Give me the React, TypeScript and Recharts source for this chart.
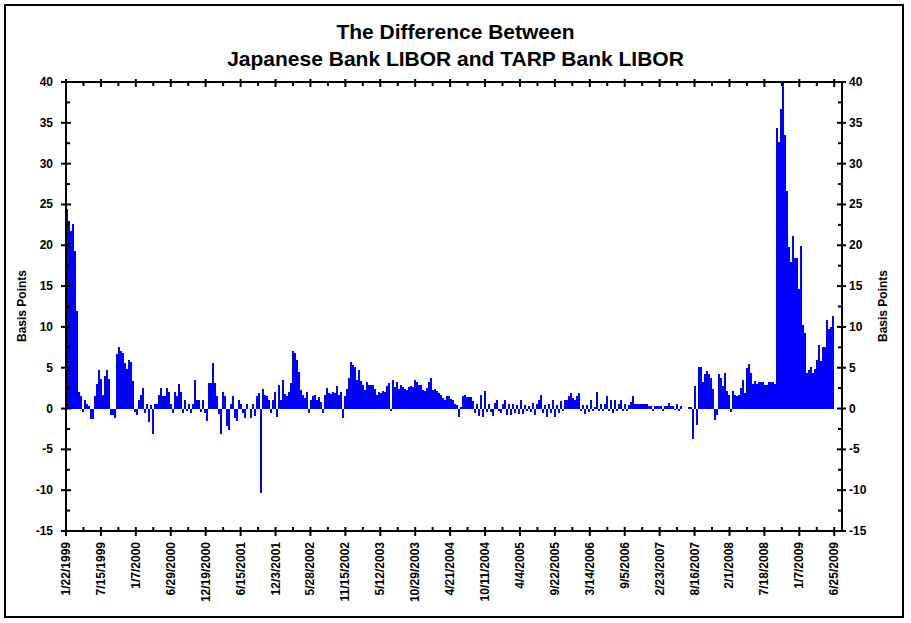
import { BarChart, Bar, XAxis, YAxis } from 'recharts';

const FONT = "'Liberation Sans', Arial, Helvetica, sans-serif";
const BLUE = '#0000FF';

const dateLabels = [
  '1/22/1999', '7/15/1999', '1/7/2000', '6/29/2000', '12/19/2000', '6/15/2001',
  '12/3/2001', '5/28/2002', '11/15/2002', '5/12/2003', '10/29/2003', '4/21/2004',
  '10/11/2004', '4/4/2005', '9/22/2005', '3/14/2006', '9/5/2006', '2/23/2007',
  '8/16/2007', '2/1/2008', '7/18/2008', '1/7/2009', '6/25/2009',
];

const yTicks = [-15, -12.5, -10, -7.5, -5, -2.5, 0, 2.5, 5, 7.5, 10, 12.5, 15, 17.5, 20, 22.5, 25, 27.5, 30, 32.5, 35, 37.5, 40];

// spread in basis points, roughly one value per 2px column of the original plot
const bps1999to2000 = [
  24.5, 23, 21.8, 22.6, 19.3, 12, 2.0, 1.5, -0.4, 1.1,
  0.6, 0.3, -1.3, -1.3, 1.5, 3.0, 4.7, 3.6, 1.6, 4.0,
  4.7, 3.6, -0.8, -0.8, -1.2, 6.7, 7.6, 7.1, 6.8, 5.6,
  4.9, 6.0, 5.7, 3.4, -0.4, -0.8, 1.1, 1.6, 2.5, -0.5,
  0.6, -1.6, 0.4, -3.1, 0.6, 0.6, 1.6, 2.5, 1.5, 1.5,
  2.5, 2.0, 0.6, -0.5, 2.0, 1.5, 3.0, 2.0, -0.5, 1.1,
  -0.3, 0.6, -0.5, 0.6, 3.5, 1.1, 1.1, -0.4, 1.0, -0.5,
  -1.5, 3.1, 3.1,
];

const bps2001to2002 = [
  5.6, 3.1, 1.5, -0.7, -3.1, 2.0, 1.5, -2.1, -2.6, 0.6,
  1.5, -1.1, -1.5, 1.1, 0.6, -0.5, -1.2, 0.6, 0, -1.2,
  0.5, -0.9, 1.5, 1.9, -10.4, 2.4, 1.6, 1.5, 1.1, -0.5,
  1.1, 2.0, -1.0, 2.9, 1.1, 3.5, 1.8, 1.5, 2.0, 3.1,
  7.1, 6.8, 6.0, 4.5, 2.3, 1.7, 1.3, 2.0, -0.5, 1.1,
  1.5, 1.6, 1.1, 1.4, 0.8, -0.5, 1.6, 2.5, 1.9, 1.8,
  2.0, 1.9, 2.8, 1.6, 2.0, -1.2, 1.5, 2.4,
];

const bps2003to2004 = [
  3.8, 5.7, 5.3, 5.1, 3.5, 4.7, 3.4, 2.9, 2.3, 3.2,
  2.9, 2.9, 2.9, 2.4, 1.6, 2.0, 1.9, 2.1, 2.0, 2.8,
  3.1, -0.3, 3.5, 2.6, 3.3, 2.4, 2.9, 2.6, 2.4, 2.3,
  2.7, 2.8, 2.7, 3.5, 3.3, 2.9, 2.9, 2.3, 2.2, 2.5,
  3.3, 3.8, 2.3, 2.4, 2.2, 1.9, 1.6, 1.3, 1.0, 1.5,
  1.5, 1.2, 1.0, 0.6, 0.4, -1.0, 0.2, 1.5, 1.6, 1.4,
  1.4, 1.4, 0.9, -0.5, 0.6, -0.9, 1.6, -1.0, 2.1, -0.4,
];

const bps2005to2006 = [
  0.6, -0.4, -0.9, 0.7, 1.1, -0.3, -0.6, 0.5, 1.0, -0.8,
  0.6, -0.8, 0.6, -0.5, 0.4, -0.7, 1.0, -0.7, 0.4, -0.3,
  0.3, -0.4, 0.7, -0.8, 0.6, 1.1, 1.6, -0.5, 0.4, -1.0,
  0.5, -0.6, 1.0, -1.0, 0.4, -0.5, 0.9, -0.3, 1.0, 1.1,
  1.5, 1.9, 1.3, 1.1, 1.5, 1.9, -0.3, 0.4, -0.7, 0.4,
  -0.4, 1.1, -0.3, 0.2, 2.0, -0.3, 0.6, -0.3, 0.6, 1.5,
  -0.3, 1.0, -0.5, 1.1, -0.3, 0.6, 1.1, -0.3, 0.6, -0.3,
];

const bps2007to2009 = [
  0.4, 0.8, 1.5, 0.6, 0.6, 0.6, 0.5, 0.6, 0.5, 0.6,
  0.3, 0.3, -0.3, 0.3, 0.3, 0.3, 0.3, -0.3, 0.3, 0.3,
  0.7, 0.3, 0.3, -0.2, 0.6, -0.25, 0.3, 0, 0, 0,
  0.15, 0.2, -3.7, 2.8, -2.0, 5.1, 5.1, 3.2, 4.2, 4.6,
  4.2, 3.8, 2.4, -1.4, -0.8, 4.2, 3.8, 2.8, 4.3, 2.1,
  1.6, -0.4, 2.1, 1.7, 1.5, 1.7, 2.5, 3.5, 1.9, 5.0,
  5.5, 4.3, 3.0, 3.4, 3.0, 3.3, 3.3, 3.3, 2.9, 2.9,
  3.3, 3.3, 3.3, 3.0, 34.4, 32.6, 36.7, 40, 33.5, 26.6,
  19.8, 17.9, 21.1, 18.4, 18.4, 14.6, 19.9, 10.2, 9.2, 4.3,
  4.7, 5.1, 4.3, 4.8, 6.0, 7.8, 5.8, 7.6, 7.6, 10.9,
  9.8, 10.0, 11.3,
];

const allBps = [...bps1999to2000, ...bps2001to2002, ...bps2003to2004, ...bps2005to2006, ...bps2007to2009];
const chartData = allBps.map((v, i) => ({ pos: i + 0.5, v }));

// date labels sit every 17.46 columns; minor ticks half way between
const LABEL_STEP = 17.46;
const xMajor = dateLabels.map((_, k) => k * LABEL_STEP);
const xMinor = xMajor.slice(0, -1).map((t) => t + LABEL_STEP / 2);
const xTicks = [...xMajor, ...xMinor].sort((a, b) => a - b);

const majorIndex = (v: number) => xMajor.findIndex((t) => Math.abs(t - v) < 1e-6);

// solid 2px column centred where recharts puts the bar, so neighbours touch
const SolidBar = ({ x, y, width, height }: any) => {
  if (!height) return null;
  const cx = x + width / 2;
  const top = Math.min(y, y + height);
  return <rect x={cx - 1} y={top} width={2} height={Math.abs(height)} fill={BLUE} shapeRendering="crispEdges" />;
};

const BottomTick = ({ x, y, payload }: any) => {
  const k = majorIndex(payload.value);
  if (k < 0) return <line x1={x} x2={x} y1={y - 4} y2={y} stroke="#000" strokeWidth={2} />;
  return (
    <g>
      <line x1={x} x2={x} y1={y - 4} y2={y + 5} stroke="#000" strokeWidth={2} />
      <text
        transform={`translate(${x},${y + 11}) rotate(-90)`}
        textAnchor="end"
        dominantBaseline="central"
        fontSize={12}
        fontWeight="bold"
        fontFamily={FONT}
        fill="#000"
      >
        {dateLabels[k]}
      </text>
    </g>
  );
};

const TopTick = ({ x, y, payload }: any) => {
  const major = majorIndex(payload.value) >= 0;
  return <line x1={x} x2={x} y1={major ? y - 3 : y} y2={major ? y + 5 : y + 4} stroke="#000" strokeWidth={2} />;
};

const LeftTick = ({ x, y, payload }: any) => {
  const major = payload.value % 5 === 0;
  return (
    <g>
      <line x1={major ? x - 5 : x} x2={major ? x + 5 : x + 4} y1={y} y2={y} stroke="#000" strokeWidth={2} />
      {major && (
        <text x={x - 13} y={y} textAnchor="end" dominantBaseline="central" fontSize={12} fontWeight="bold" fontFamily={FONT} fill="#000">
          {payload.value}
        </text>
      )}
    </g>
  );
};

const RightTick = ({ x, y, payload }: any) => {
  const major = payload.value % 5 === 0;
  return (
    <g>
      <line x1={major ? x - 5 : x - 4} x2={major ? x + 4 : x} y1={y} y2={y} stroke="#000" strokeWidth={2} />
      {major && (
        <text x={x + 7} y={y} textAnchor="start" dominantBaseline="central" fontSize={12} fontWeight="bold" fontFamily={FONT} fill="#000">
          {payload.value}
        </text>
      )}
    </g>
  );
};

const axisLine = { stroke: '#000', strokeWidth: 2 };

const sideTitle = (left: number) => (
  <div
    style={{
      position: 'absolute', left: left - 60, top: 299, width: 120, height: 14,
      lineHeight: '14px', textAlign: 'center', fontSize: 12, fontWeight: 'bold',
      fontFamily: FONT, transform: 'rotate(-90deg)', color: '#000',
    }}
  >
    Basis Points
  </div>
);

export default function App() {
  return (
    <div style={{ position: 'absolute', left: 0, top: 0, width: 911, height: 623, background: '#fff', fontFamily: FONT }}>
      <div style={{ position: 'absolute', left: 4, top: 4, width: 900, height: 614, border: '2px solid #000', boxSizing: 'border-box' }} />
      <div style={{ position: 'absolute', left: 0, top: 18, width: 911, textAlign: 'center', fontSize: 21, fontWeight: 'bold', lineHeight: '27px', color: '#000' }}>
        The Difference Between
        <br />
        Japanese Bank LIBOR and TARP Bank LIBOR
      </div>
      {sideTitle(22)}
      {sideTitle(883)}
      <div style={{ position: 'absolute', left: 0, top: 0 }}>
        <BarChart
          width={911}
          height={623}
          data={chartData}
          margin={{ top: 81, right: 68, bottom: 91, left: 65 }}
          barCategoryGap={0}
          barGap={0}
        >
          <XAxis
            dataKey="pos"
            type="number"
            domain={[0, 388]}
            ticks={xTicks}
            interval={0}
            height={1}
            tickSize={0}
            tickMargin={0}
            tickLine={false}
            axisLine={axisLine}
            tick={(p: any) => <BottomTick {...p} />}
            allowDataOverflow
          />
          <XAxis
            xAxisId="top"
            orientation="top"
            dataKey="pos"
            type="number"
            domain={[0, 388]}
            ticks={xTicks}
            interval={0}
            height={1}
            tickSize={0}
            tickMargin={0}
            tickLine={false}
            axisLine={axisLine}
            tick={(p: any) => <TopTick {...p} />}
            allowDataOverflow
          />
          <YAxis
            domain={[-15, 40]}
            ticks={yTicks}
            interval={0}
            width={1}
            tickSize={0}
            tickMargin={0}
            tickLine={false}
            axisLine={axisLine}
            tick={(p: any) => <LeftTick {...p} />}
            allowDataOverflow
          />
          <YAxis
            yAxisId="right"
            orientation="right"
            domain={[-15, 40]}
            ticks={yTicks}
            interval={0}
            width={1}
            tickSize={0}
            tickMargin={0}
            tickLine={false}
            axisLine={axisLine}
            tick={(p: any) => <RightTick {...p} />}
            allowDataOverflow
          />
          <Bar dataKey="v" fill={BLUE} barSize={2} shape={(p: any) => <SolidBar {...p} />} isAnimationActive={false} />
        </BarChart>
      </div>
    </div>
  );
}
